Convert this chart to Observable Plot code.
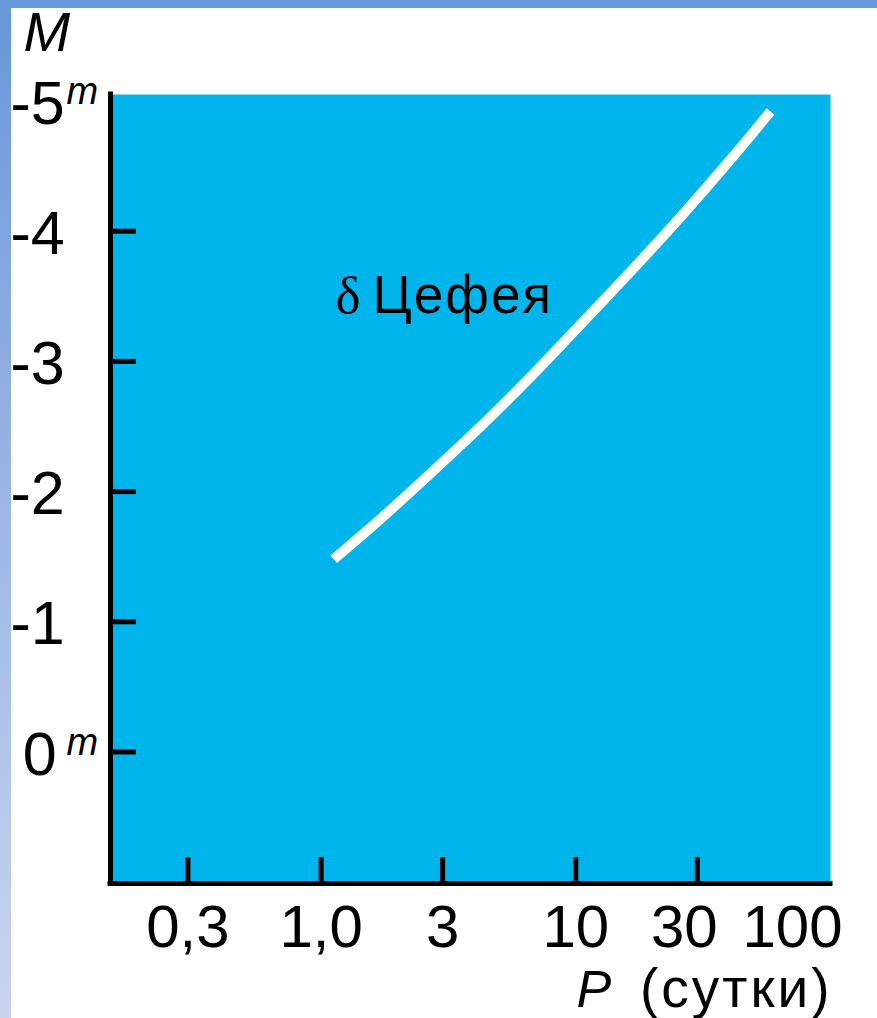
<!DOCTYPE html>
<html>
<head>
<meta charset="utf-8">
<script src="https://cdn.jsdelivr.net/npm/d3@7"></script>
<script src="https://cdn.jsdelivr.net/npm/@observablehq/plot@0.6"></script>
<style>
  html, body { margin: 0; padding: 0; background: #fff; overflow: hidden; }
  #wrap { position: relative; width: 877px; height: 1018px; }
  #wrap svg { display: block; }
  .strip-left { position: absolute; left: 0; top: 0; width: 11px; height: 1018px;
    background: linear-gradient(to bottom, #6797d8 0%, #98b3e3 45%, #c9d5ef 100%); z-index: 2; }
  .strip-top { position: absolute; left: 0; top: 0; width: 877px; height: 8px; background: #6898d9; z-index: 3; }
</style>
</head>
<body>
<div id="wrap">
  <div class="strip-left"></div>
  <div class="strip-top"></div>
</div>
<script>
// Period–luminosity curve of δ Cephei type stars
const period    = [1.12, 1.71, 2.69, 4.23, 6.64, 10.4, 16.4, 25.8, 40.5, 58.1];
const magnitude = [-1.48, -1.79, -2.14, -2.50, -2.88, -3.28, -3.69, -4.11, -4.55, -4.92];

const xTicks       = [0.3, 1, 3, 10, 30];
const xLabelTicks  = [0.3, 1, 3, 10];
const xLabels      = ["0,3", "1,0", "3", "10"];
const yTicks       = [-4, -3, -2, -1, 0];
const yLabelTicks  = [-5, -4, -3, -2, -1, 0];
const yLabels      = ["-5", "-4", "-3", "-2", "-1", "\u20090"];
const ySuper       = [-5, 0];
const curveLabel   = {P: 1.14, M: -3.375};
const xDomain = [0.149, 100];
const yDomain = [1.01, -5.05];

const data = period.map((p, i) => ({P: p, M: magnitude[i]}));
const cyan = "#00b4ec";
const font = "Liberation Sans, Arial, Helvetica, sans-serif";

const chart = Plot.plot({
  width: 877,
  height: 1018,
  marginLeft: 110,
  marginRight: 47,
  marginTop: 94,
  marginBottom: 135,
  style: {fontFamily: font, background: "transparent", color: "#000"},
  x: {type: "log", domain: xDomain, axis: null, label: null},
  y: {type: "linear", domain: yDomain, axis: null, label: null},
  marks: [
    Plot.frame({fill: cyan, stroke: "none"}),
    // curve
    Plot.line(data, {x: "P", y: "M", curve: "natural", stroke: "#fffffa", strokeWidth: 10, strokeLinecap: "butt"}),
    // inward ticks
    Plot.axisX({ticks: xTicks, anchor: "bottom", tickSize: -26, strokeWidth: 5, fill: "none", tickFormat: () => "", label: null}),
    Plot.axisY({ticks: yTicks, anchor: "left", tickSize: -26, strokeWidth: 5, fill: "none", tickFormat: () => "", label: null}),
    // axis lines
    Plot.ruleX([xDomain[0]], {stroke: "#000", strokeWidth: 5, strokeLinecap: "square"}),
    Plot.ruleY([yDomain[0]], {stroke: "#000", strokeWidth: 5, strokeLinecap: "square"}),
    // tick labels
    Plot.axisX({ticks: xLabelTicks, anchor: "bottom", tickSize: 0, tickPadding: 21, fontSize: 60, label: null,
      tickFormat: d => xLabels[xLabelTicks.indexOf(d)]}),
    Plot.text([30], {x: d => d, frameAnchor: "bottom", text: () => "30", lineAnchor: "top", dy: 21, dx: -13, fontSize: 60}),
    Plot.text([100], {x: d => d, frameAnchor: "bottom", text: () => "100", lineAnchor: "top", dy: 21, dx: -38, fontSize: 60}),
    Plot.axisY({ticks: yLabelTicks, anchor: "left", tickSize: 0, tickPadding: 100, textAnchor: "start", fontSize: 61, dy: 3, label: null,
      tickFormat: d => yLabels[yLabelTicks.indexOf(d)]}),
    Plot.text(ySuper, {y: d => d, frameAnchor: "left", text: () => "m", textAnchor: "start", lineAnchor: "bottom",
      dx: -44, dy: 3, fontSize: 38, fontStyle: "italic"}),
    // axis titles
    Plot.text(["M"], {frameAnchor: "top-left", text: d => d, textAnchor: "start", lineAnchor: "bottom",
      dx: -87, dy: -44, fontSize: 56, fontStyle: "italic"}),
    Plot.text(["P"], {frameAnchor: "bottom-right", text: d => d, textAnchor: "start", lineAnchor: "bottom",
      dx: -254, dy: 123, fontSize: 52, fontStyle: "italic"}),
    Plot.text(["(сутки)"], {frameAnchor: "bottom-right", text: d => d, textAnchor: "end", lineAnchor: "bottom",
      dx: 2, dy: 123, fontSize: 55}),
    // curve label
    Plot.text([curveLabel], {x: "P", y: "M", text: () => "δ", textAnchor: "start", lineAnchor: "bottom",
      fontSize: 53, fontFamily: "Liberation Serif, Times New Roman, serif"}),
    Plot.text([curveLabel], {x: "P", y: "M", text: () => "Цефея", textAnchor: "start", lineAnchor: "bottom",
      dx: 37, fontSize: 53})
  ]
});

d3.select(chart).selectAll("text").each(function () {
  const t = this.textContent;
  if (t === "(сутки)") this.setAttribute("letter-spacing", "3");
  if (t === "Цефея") this.setAttribute("letter-spacing", "2");
});

document.getElementById("wrap").appendChild(chart);
</script>
</body>
</html>
